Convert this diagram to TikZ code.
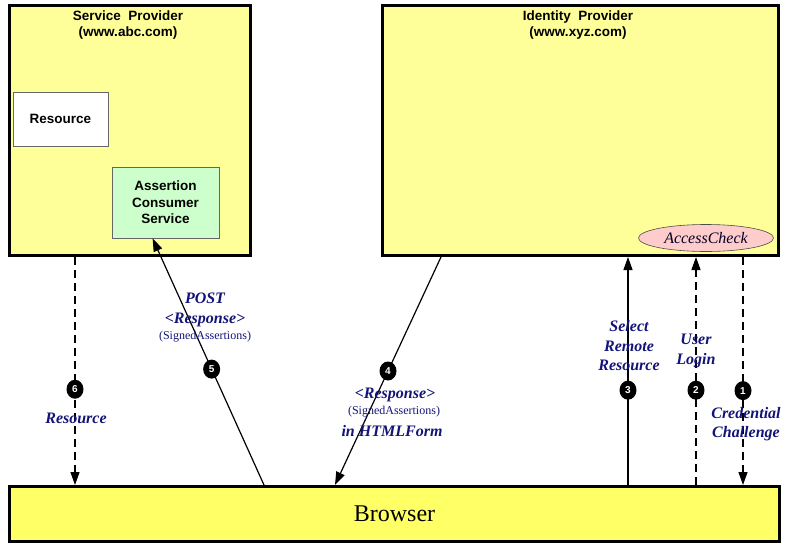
\documentclass[tikz,border=0pt]{standalone}
\usepackage{fontspec}
\setmainfont{Liberation Serif}
\setsansfont{Liberation Sans}
\usetikzlibrary{arrows.meta,shapes.geometric,positioning}
\definecolor{provfill}{HTML}{FFFF99}
\definecolor{browfill}{HTML}{FFFF66}
\definecolor{acsfill}{HTML}{CCFFCC}
\definecolor{checkfill}{HTML}{FFCCCC}
\definecolor{lblblue}{RGB}{20,20,120}

\begin{document}
\begin{tikzpicture}[x=1pt,y=-1pt,
    provbox/.style={draw,line width=3pt,fill=provfill,anchor=north west,inner sep=0pt},
    innerbox/.style={draw=black!60,line width=0.8pt,inner sep=0pt,align=center,
      font=\sffamily\bfseries\fontsize{13.5}{16.5}\selectfont},
    boxtitle/.style={anchor=north,inner sep=0pt,align=center,
      font=\sffamily\bfseries\fontsize{13.5}{16}\selectfont},
    stepdot/.style={ellipse,fill=black,inner sep=0pt,minimum width=17pt,minimum height=19pt,
      text=white,font=\sffamily\bfseries\fontsize{10}{10}\selectfont},
    lbl/.style={text=lblblue,inner sep=0pt,align=center,
      font=\bfseries\itshape\fontsize{16}{19.5}\selectfont},
    smalllbl/.style={text=lblblue,inner sep=0pt,font=\fontsize{12}{14}\selectfont},
    flow/.style={line width=1.2pt,-{Triangle[length=13pt,width=9pt]}},
    dashflow/.style={flow,dash pattern=on 8pt off 5pt}]
  \useasboundingbox (0,0) rectangle (788,549);

  % the two providers and the browser
  \node[provbox,minimum width=241pt,minimum height=250pt] (sp) at (8,4) {};
  \node[boxtitle] (sptitle) at (128,10.5) {Service\ \ Provider\\(www.abc.com)};
  \node[innerbox,fill=white,minimum width=95pt,minimum height=54pt] (res) at (60.5,119) {Resource};
  \node[innerbox,fill=acsfill,minimum width=107pt,minimum height=71pt] (acs) at (165.5,202.5)
    {Assertion\\Consumer\\Service};

  \node[provbox,minimum width=396pt,minimum height=250pt] (idp) at (381,4) {};
  \node[boxtitle] (idptitle) at (578,10.5) {Identity\ \ Provider\\(www.xyz.com)};
  \node[ellipse,draw=black!70,line width=0.6pt,fill=checkfill,minimum width=135pt,
    minimum height=27pt,inner sep=0pt,font=\itshape\fontsize{16}{16}\selectfont,
    text=black!85!blue] (check) at (706,238) {AccessCheck};

  \node[provbox,fill=browfill,minimum width=770pt,minimum height=55pt,
    font=\fontsize{24}{24}\selectfont] (br) at (8,485) {Browser};

  \coordinate (x6) at (75,0);
  \coordinate (x3) at (628,0);
  \coordinate (x2) at (696,0);
  \coordinate (x1) at (743,0);

  % the numbered steps
  \draw[dashflow] (idp.south -| x1) -- node[stepdot,pos=0.586] (n1) {1} (br.north -| x1);
  \draw[dashflow] (br.north -| x2) -- node[stepdot,pos=0.416] (n2) {2} (idp.south -| x2);
  \draw[flow] (br.north -| x3) -- node[stepdot,pos=0.416] (n3) {3} (idp.south -| x3);
  \draw[flow] ([xshift=60pt]idp.south west) -- node[stepdot,pos=0.5] (n4) {4}
    ([xshift=327pt]br.north west);
  \draw[flow] ([xshift=256pt]br.north west) -- node[stepdot,pos=0.47] (n5) {5}
    ([xshift=41pt]acs.south west);
  \draw[dashflow] (sp.south -| x6) -- node[stepdot,pos=0.58] (n6) {6} (br.north -| x6);

  % labels on the steps
  \node[lbl] (l1) at (746,424) {Credential\\Challenge};
  \node[lbl] (l2) at (696,351) {User\\Login};
  \node[lbl] (l3) at (629,346) {Select\\Remote\\Resource};
  \node[lbl] (l4a) at (395,395) {<Response>};
  \node[smalllbl] (l4b) at (394,412) {(SignedAssertions)};
  \node[lbl] (l4c) at (392,431) {in HTMLForm};
  \node[lbl] (l5a) at (205,310) {POST\\<Response>};
  \node[smalllbl] (l5b) at (205,337) {(SignedAssertions)};
  \node[lbl] (l6) at (76,418) {Resource};
\end{tikzpicture}
\end{document}
